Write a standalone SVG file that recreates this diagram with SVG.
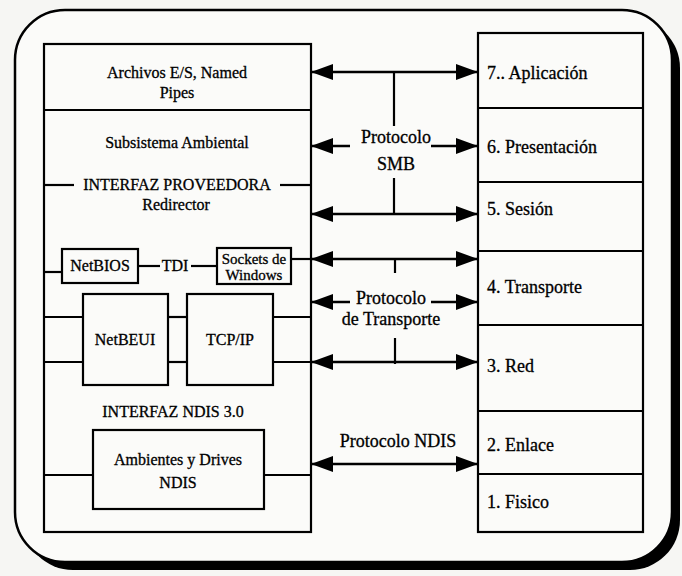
<svg xmlns="http://www.w3.org/2000/svg" width="682" height="576" viewBox="0 0 682 576">
  <style>
    .ln { stroke: #000; stroke-width: 2.2; fill: none; }
    .box { stroke: #000; stroke-width: 2.2; fill: none; }
    .arr { stroke: #000; stroke-width: 2.6; fill: none; }
    .t { font-family: "Liberation Serif", "Times New Roman", serif; fill: #000; stroke: #000; stroke-width: 0.3; }
    .s { font-size: 16px; text-anchor: middle; }
    .sm { font-size: 15px; text-anchor: middle; }
    .r { font-size: 18px; }
    .p { font-size: 18px; text-anchor: middle; }
  </style>
  <defs>
    <marker id="head" viewBox="0 0 22 16" refX="22" refY="8" markerWidth="22" markerHeight="16" markerUnits="userSpaceOnUse" orient="auto-start-reverse">
      <path d="M0,0 L22,8 L0,16 z" fill="#000"/>
    </marker>
  </defs>

  <rect width="682" height="576" fill="#f6f6f3"/>

  <!-- outer frame with drop shadow -->
  <g id="frame">
    <rect x="23" y="18" width="657" height="552" rx="50" fill="#000"/>
    <rect x="15" y="10" width="657" height="552" rx="50" fill="#fbfbf9" stroke="#000" stroke-width="2.5"/>
  </g>

  <!-- Windows NT stack -->
  <g id="nt-stack">
    <rect class="box" x="44" y="44" width="267" height="488"/>
    <line class="ln" x1="44" y1="110" x2="311" y2="110"/>
    <text class="t s" x="177" y="78">Archivos E/S, Named</text>
    <text class="t s" x="177" y="98">Pipes</text>
  </g>

  <g id="subsistema">
    <text class="t s" x="177" y="148">Subsistema Ambiental</text>
  </g>

  <g id="interfaz-proveedora">
    <line class="ln" x1="44" y1="185" x2="74" y2="185"/>
    <line class="ln" x1="280" y1="185" x2="311" y2="185"/>
    <text class="t s" x="177" y="190">INTERFAZ PROVEEDORA</text>
    <text class="t s" x="176" y="210">Redirector</text>
  </g>

  <g id="netbios">
    <rect class="box" x="62" y="249" width="76" height="34"/>
    <text class="t s" x="100" y="271">NetBIOS</text>
  </g>

  <g id="tdi">
    <text class="t s" x="175" y="271">TDI</text>
  </g>

  <g id="sockets">
    <rect class="box" x="217" y="248" width="74" height="36"/>
    <text class="t sm" x="254" y="264">Sockets de</text>
    <text class="t sm" x="254" y="280">Windows</text>
  </g>

  <g id="netbeui">
    <rect class="box" x="83" y="294" width="85" height="91"/>
    <text class="t s" x="125" y="345">NetBEUI</text>
  </g>

  <g id="tcpip">
    <rect class="box" x="187" y="294" width="86" height="91"/>
    <text class="t s" x="230" y="345">TCP/IP</text>
  </g>

  <g id="interfaz-ndis">
    <text class="t s" x="173" y="417">INTERFAZ NDIS 3.0</text>
  </g>

  <g id="ambientes">
    <rect class="box" x="93" y="430" width="171" height="79"/>
    <text class="t s" x="178" y="465">Ambientes y Drives</text>
    <text class="t s" x="178" y="488">NDIS</text>
  </g>

  <!-- OSI reference model -->
  <g id="osi">
    <rect class="box" x="478" y="33" width="165" height="499"/>
    <line class="ln" x1="478" y1="108" x2="643" y2="108"/>
    <line class="ln" x1="478" y1="182" x2="643" y2="182"/>
    <line class="ln" x1="478" y1="251" x2="643" y2="251"/>
    <line class="ln" x1="478" y1="325" x2="643" y2="325"/>
    <line class="ln" x1="478" y1="411" x2="643" y2="411"/>
    <line class="ln" x1="478" y1="474" x2="643" y2="474"/>
    <text class="t r" x="487" y="79">7.. Aplicación</text>
    <text class="t r" x="487" y="153">6. Presentación</text>
    <text class="t r" x="487" y="215">5. Sesión</text>
    <text class="t r" x="487" y="293">4. Transporte</text>
    <text class="t r" x="487" y="372">3. Red</text>
    <text class="t r" x="487" y="451">2. Enlace</text>
    <text class="t r" x="487" y="508">1. Fisico</text>
  </g>

  <!-- connectors -->
  <g id="connectors">
    <!-- internal stack links -->
    <line class="ln" x1="44" y1="272" x2="62" y2="272"/>
    <line class="ln" x1="138" y1="266" x2="160" y2="266"/>
    <line class="ln" x1="191" y1="266" x2="217" y2="266"/>
    <line class="ln" x1="44" y1="317" x2="83" y2="317"/>
    <line class="ln" x1="168" y1="317" x2="187" y2="317"/>
    <line class="ln" x1="273" y1="317" x2="311" y2="317"/>
    <line class="ln" x1="44" y1="362" x2="83" y2="362"/>
    <line class="ln" x1="168" y1="362" x2="187" y2="362"/>
    <line class="ln" x1="273" y1="362" x2="311" y2="362"/>
    <line class="ln" x1="44" y1="475" x2="93" y2="475"/>
    <line class="ln" x1="264" y1="475" x2="311" y2="475"/>

    <!-- SMB protocol -->
    <line class="arr" x1="311" y1="72" x2="478" y2="72" marker-start="url(#head)" marker-end="url(#head)"/>
    <line class="arr" x1="311" y1="146" x2="350" y2="146" marker-start="url(#head)"/>
    <line class="arr" x1="431" y1="146" x2="478" y2="146" marker-end="url(#head)"/>
    <line class="arr" x1="311" y1="214" x2="478" y2="214" marker-start="url(#head)" marker-end="url(#head)"/>
    <line class="ln" x1="394" y1="72" x2="394" y2="126"/>
    <line class="ln" x1="394" y1="178" x2="394" y2="214"/>

    <!-- transport protocol -->
    <line class="ln" x1="291" y1="259" x2="311" y2="259"/>
    <line class="arr" x1="311" y1="259" x2="478" y2="259" marker-start="url(#head)" marker-end="url(#head)"/>
    <line class="arr" x1="311" y1="302" x2="350" y2="302" marker-start="url(#head)"/>
    <line class="arr" x1="431" y1="302" x2="478" y2="302" marker-end="url(#head)"/>
    <line class="arr" x1="311" y1="362" x2="478" y2="362" marker-start="url(#head)" marker-end="url(#head)"/>
    <line class="ln" x1="395" y1="259" x2="395" y2="273"/>
    <line class="ln" x1="395" y1="338" x2="395" y2="364"/>

    <!-- NDIS protocol -->
    <line class="arr" x1="311" y1="464" x2="478" y2="464" marker-start="url(#head)" marker-end="url(#head)"/>

    <text class="t p" x="396" y="143">Protocolo</text>
    <text class="t p" x="396" y="170">SMB</text>
    <text class="t p" x="391" y="304">Protocolo</text>
    <text class="t p" x="391" y="325">de Transporte</text>
    <text class="t p" x="398" y="447">Protocolo NDIS</text>
  </g>
</svg>
